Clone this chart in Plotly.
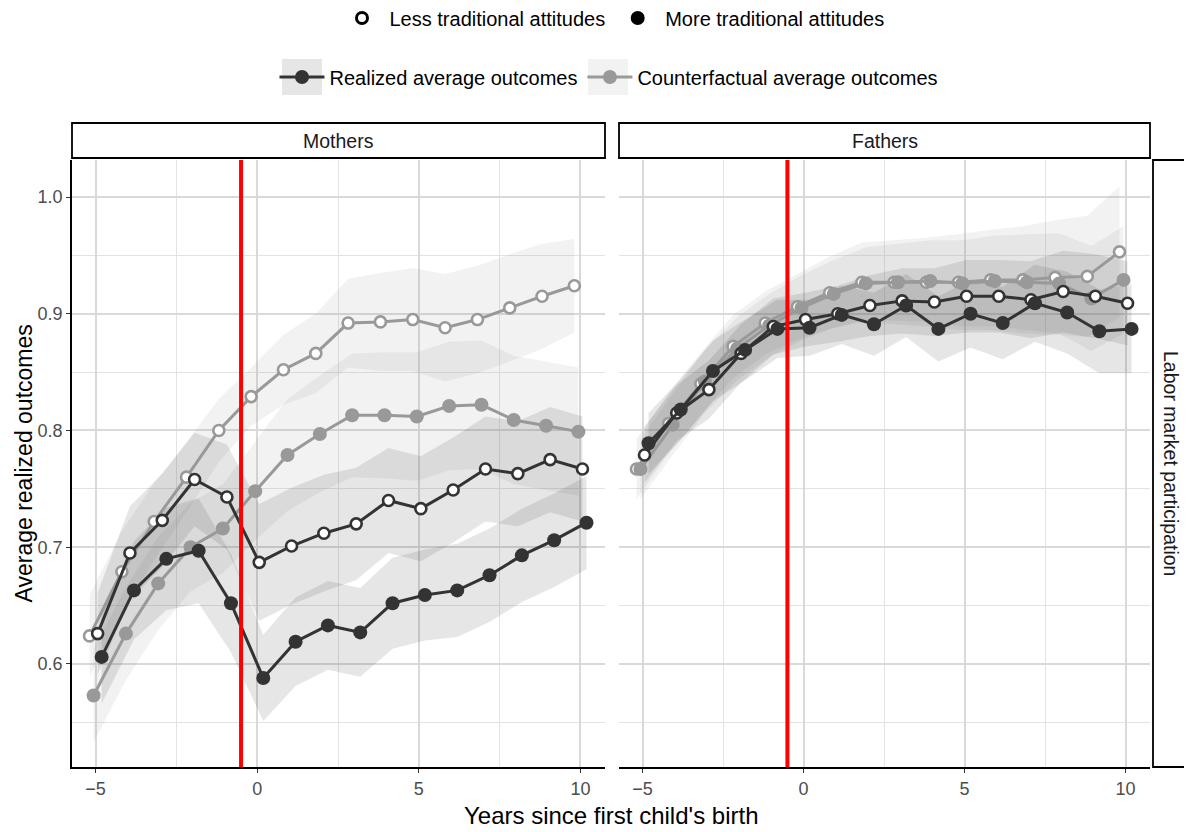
import plotly.graph_objects as go

# ---------------- data ----------------
years = list(range(-5, 11))

# Mothers
m_cf_less = [0.624, 0.679, 0.722, 0.760, 0.800, 0.829, 0.852, 0.866, 0.892, 0.893, 0.895, 0.888, 0.895, 0.905, 0.915, 0.924]
m_cf_more = [0.573, 0.626, 0.669, 0.700, 0.716, 0.748, 0.779, 0.797, 0.813, 0.813, 0.812, 0.821, 0.822, 0.809, 0.804, 0.799]
m_re_less = [0.626, 0.695, 0.723, 0.758, 0.743, 0.687, 0.701, 0.712, 0.720, 0.740, 0.733, 0.749, 0.767, 0.763, 0.775, 0.767]
m_re_more = [0.606, 0.663, 0.690, 0.697, 0.652, 0.588, 0.619, 0.633, 0.627, 0.652, 0.659, 0.663, 0.676, 0.693, 0.706, 0.721]

m_cf_less_ci = [0.035, 0.035, 0.033, 0.030, 0.027, 0.025, 0.030, 0.034, 0.038, 0.042, 0.044, 0.046, 0.046, 0.046, 0.045, 0.040]
m_cf_more_ci = [0.040, 0.040, 0.040, 0.038, 0.038, 0.042, 0.048, 0.050, 0.053, 0.054, 0.055, 0.055, 0.055, 0.055, 0.055, 0.055]
m_re_less_ci = [0.035, 0.040, 0.040, 0.040, 0.045, 0.050, 0.050, 0.050, 0.048, 0.045, 0.045, 0.045, 0.045, 0.045, 0.045, 0.045]
m_re_more_ci = [0.040, 0.042, 0.044, 0.045, 0.042, 0.037, 0.038, 0.038, 0.038, 0.039, 0.039, 0.040, 0.040, 0.040, 0.040, 0.040]

# Fathers
f_cf_less = [0.767, 0.806, 0.840, 0.872, 0.892, 0.906, 0.918, 0.927, 0.927, 0.927, 0.927, 0.929, 0.929, 0.931, 0.932, 0.953]
f_cf_more = [0.767, 0.805, 0.842, 0.870, 0.890, 0.905, 0.917, 0.926, 0.927, 0.928, 0.926, 0.928, 0.927, 0.926, 0.913, 0.929]
f_re_less = [0.779, 0.815, 0.835, 0.866, 0.889, 0.895, 0.900, 0.907, 0.911, 0.910, 0.915, 0.915, 0.912, 0.919, 0.915, 0.909]
f_re_more = [0.789, 0.818, 0.851, 0.869, 0.887, 0.888, 0.899, 0.891, 0.907, 0.887, 0.900, 0.892, 0.909, 0.901, 0.885, 0.887]

f_cf_less_ci = [0.026, 0.026, 0.027, 0.027, 0.027, 0.028, 0.031, 0.034, 0.036, 0.038, 0.041, 0.043, 0.046, 0.049, 0.052, 0.056]
f_cf_more_ci = [0.026, 0.026, 0.027, 0.027, 0.027, 0.028, 0.029, 0.031, 0.033, 0.035, 0.037, 0.039, 0.041, 0.043, 0.045, 0.046]
f_re_less_ci = [0.024, 0.024, 0.025, 0.025, 0.024, 0.023, 0.024, 0.026, 0.028, 0.029, 0.031, 0.031, 0.033, 0.035, 0.036, 0.036]
f_re_more_ci = [0.026, 0.026, 0.026, 0.026, 0.025, 0.024, 0.025, 0.027, 0.027, 0.028, 0.029, 0.031, 0.033, 0.035, 0.036, 0.038]

panels = ["Mothers", "Fathers"]
facet_row_label = "Labor market participation"
event_x = -0.5
x_ticks = [-5, 0, 5, 10]
y_ticks = [0.6, 0.7, 0.8, 0.9, 1.0]
y_minor = [0.55, 0.65, 0.75, 0.85, 0.95]
x_minor = [-2.5, 2.5, 7.5]

# ---------------- styles ----------------
DARK = "#333333"
GRAY = "#999999"
RIB_DARK = "rgba(51,51,51,0.12)"
RIB_GRAY = "rgba(153,153,153,0.13)"
FONT = "Liberation Sans, Arial, sans-serif"

# order of dodge groups: CF less, CF more, realized less, realized more
dodge = [-0.1875, -0.0625, 0.0625, 0.1875]

series = {
    "Mothers": [
        (m_cf_less, m_cf_less_ci, GRAY, RIB_GRAY, True),
        (m_cf_more, m_cf_more_ci, GRAY, RIB_GRAY, False),
        (m_re_less, m_re_less_ci, DARK, RIB_DARK, True),
        (m_re_more, m_re_more_ci, DARK, RIB_DARK, False),
    ],
    "Fathers": [
        (f_cf_less, f_cf_less_ci, GRAY, RIB_GRAY, True),
        (f_cf_more, f_cf_more_ci, GRAY, RIB_GRAY, False),
        (f_re_less, f_re_less_ci, DARK, RIB_DARK, True),
        (f_re_more, f_re_more_ci, DARK, RIB_DARK, False),
    ],
}

fig = go.Figure()

for pi, panel in enumerate(panels):
    xa = "x" if pi == 0 else "x2"
    ya = "y" if pi == 0 else "y2"
    for gi, (vals, ci, col, rib, open_) in enumerate(series[panel]):
        xs = [x + dodge[gi] for x in years]
        up = [v + c for v, c in zip(vals, ci)]
        lo = [v - c for v, c in zip(vals, ci)]
        fig.add_trace(go.Scatter(
            x=xs + xs[::-1], y=up + lo[::-1], mode="lines", fill="toself",
            fillcolor=rib, line=dict(width=0), hoverinfo="skip",
            showlegend=False, xaxis=xa, yaxis=ya))
    for gi, (vals, ci, col, rib, open_) in enumerate(series[panel]):
        xs = [x + dodge[gi] for x in years]
        if open_:
            marker = dict(symbol="circle", size=11, color="white",
                          line=dict(color=col, width=2.6))
        else:
            marker = dict(symbol="circle", size=14, color=col, line=dict(width=0))
        fig.add_trace(go.Scatter(
            x=xs, y=vals, mode="lines+markers",
            line=dict(color=col, width=3), marker=marker,
            showlegend=False, xaxis=xa, yaxis=ya))

# legend 1: attitudes
fig.add_trace(go.Scatter(x=[None], y=[None], mode="markers", name="Less traditional attitudes",
                         marker=dict(symbol="circle-open", size=11, color="black", line=dict(width=3, color="black")),
                         legend="legend"))
fig.add_trace(go.Scatter(x=[None], y=[None], mode="markers", name="More traditional attitudes",
                         marker=dict(symbol="circle", size=14, color="black"), legend="legend"))
# legend 2: realized / counterfactual
fig.add_trace(go.Scatter(x=[None], y=[None], mode="lines+markers", name="Realized average outcomes",
                         line=dict(color=DARK, width=3), marker=dict(size=14, color=DARK), legend="legend2"))
fig.add_trace(go.Scatter(x=[None], y=[None], mode="lines+markers", name="Counterfactual average outcomes",
                         line=dict(color=GRAY, width=3), marker=dict(size=14, color=GRAY), legend="legend2"))

# page offset (body margin) compensation
OFF = 8
W, H = 1192 - OFF, 832 - OFF
ML, MT = 72 - OFF, 160 - OFF
PR, PB = 1150 - OFF, 767 - OFF
MR, MB = W - PR, H - PB
PW = W - ML - MR
PH = H - MT - MB

def px_x(p):
    return (p - OFF - ML) / PW

def px_y(p):
    return (PB - (p - OFF)) / PH

xdom1 = [0, px_x(605)]
xdom2 = [px_x(619), 1]
xr = [-5.73, 10.76]
yr = [0.5117, 1.0317]

axis_common = dict(
    showgrid=True, gridcolor="#d9d9d9", gridwidth=1.6, zeroline=False,
    ticks="outside", ticklen=4, tickwidth=1.3, tickcolor="#333333",
    tickfont=dict(family=FONT, size=18, color="#4d4d4d"),
    showline=True, linecolor="black", linewidth=1.8,
)

fig.update_layout(
    width=W, height=H, autosize=False,
    margin=dict(l=ML, r=MR, t=MT, b=MB),
    paper_bgcolor="white", plot_bgcolor="white",
    font=dict(family=FONT, color="black"),
    xaxis=dict(domain=xdom1, anchor="y", range=xr, tickvals=x_ticks,
               minor=dict(tickvals=x_minor, showgrid=True, gridcolor="#e3e3e3", gridwidth=1),
               **axis_common),
    xaxis2=dict(domain=xdom2, anchor="y2", range=xr, tickvals=x_ticks,
                minor=dict(tickvals=x_minor, showgrid=True, gridcolor="#e3e3e3", gridwidth=1),
                **axis_common),
    yaxis=dict(domain=[0, 1], anchor="x", range=yr, tickvals=y_ticks,
               ticktext=[f"{v:.1f}" for v in y_ticks],
               minor=dict(tickvals=y_minor, showgrid=True, gridcolor="#e3e3e3", gridwidth=1),
               **axis_common),
    yaxis2=dict(domain=[0, 1], anchor="x2", range=yr, tickvals=y_ticks,
                showticklabels=False, ticks="", showgrid=True, gridcolor="#d9d9d9", gridwidth=1.6,
                zeroline=False, showline=False,
                minor=dict(tickvals=y_minor, showgrid=True, gridcolor="#e3e3e3", gridwidth=1)),
    legend=dict(orientation="h", x=px_x(612), xanchor="center", xref="paper",
                y=1 - (18 - OFF) / H, yref="container", yanchor="middle", itemwidth=45,
                font=dict(family=FONT, size=20, color="black"), bgcolor="rgba(0,0,0,0)"),
    legend2=dict(orientation="h", x=px_x(609), xanchor="center", xref="paper",
                 y=1 - (77 - OFF) / H, yref="container", yanchor="middle", itemwidth=45,
                 font=dict(family=FONT, size=20, color="black"), bgcolor="rgba(0,0,0,0)"),
    showlegend=True,
)

shapes = []
annotations = []
for xa in ["x", "x2"]:
    shapes.append(dict(type="line", xref=xa, yref="y domain", x0=event_x, x1=event_x, y0=0, y1=1,
                       line=dict(color="red", width=4), layer="above"))
for dom, name in [(xdom1, panels[0]), (xdom2, panels[1])]:
    shapes.append(dict(type="rect", xref="paper", yref="paper", x0=dom[0], x1=dom[1],
                       y0=px_y(158), y1=px_y(123), line=dict(color="black", width=1.8),
                       fillcolor="white", layer="above"))
    annotations.append(dict(text=name, xref="paper", yref="paper", x=(dom[0] + dom[1]) / 2,
                            y=(px_y(158) + px_y(123)) / 2, showarrow=False,
                            font=dict(family=FONT, size=19.5, color="#1a1a1a"),
                            xanchor="center", yanchor="middle"))
shapes.append(dict(type="rect", xref="paper", yref="paper", x0=px_x(1153), x1=px_x(1190),
                   y0=0, y1=1, line=dict(color="black", width=1.8), fillcolor="white", layer="above"))
annotations.append(dict(text=facet_row_label, xref="paper", yref="paper", x=px_x(1171.5), y=0.5,
                        showarrow=False, textangle=90, font=dict(family=FONT, size=19.5, color="#1a1a1a"),
                        xanchor="center", yanchor="middle"))
annotations.append(dict(text="Average realized outcomes", xref="paper", yref="paper",
                        x=px_x(23), y=0.5, showarrow=False, textangle=-90,
                        font=dict(family=FONT, size=23, color="black"), xanchor="center", yanchor="middle"))
annotations.append(dict(text="Years since first child's birth", xref="paper", yref="paper",
                        x=px_x(611), y=px_y(815), showarrow=False,
                        font=dict(family=FONT, size=24, color="black"), xanchor="center", yanchor="middle"))

# legend key backgrounds (ribbon fill shown behind the legend-2 keys)
for cx, col in [(302, RIB_DARK), (608, RIB_GRAY)]:
    shapes.append(dict(type="rect", xref="paper", yref="paper", x0=px_x(cx - 20), x1=px_x(cx + 20),
                       y0=px_y(95), y1=px_y(59), line=dict(width=0), fillcolor=col, layer="below"))

fig.update_layout(shapes=shapes, annotations=annotations)

fig.write_html("out.html")
